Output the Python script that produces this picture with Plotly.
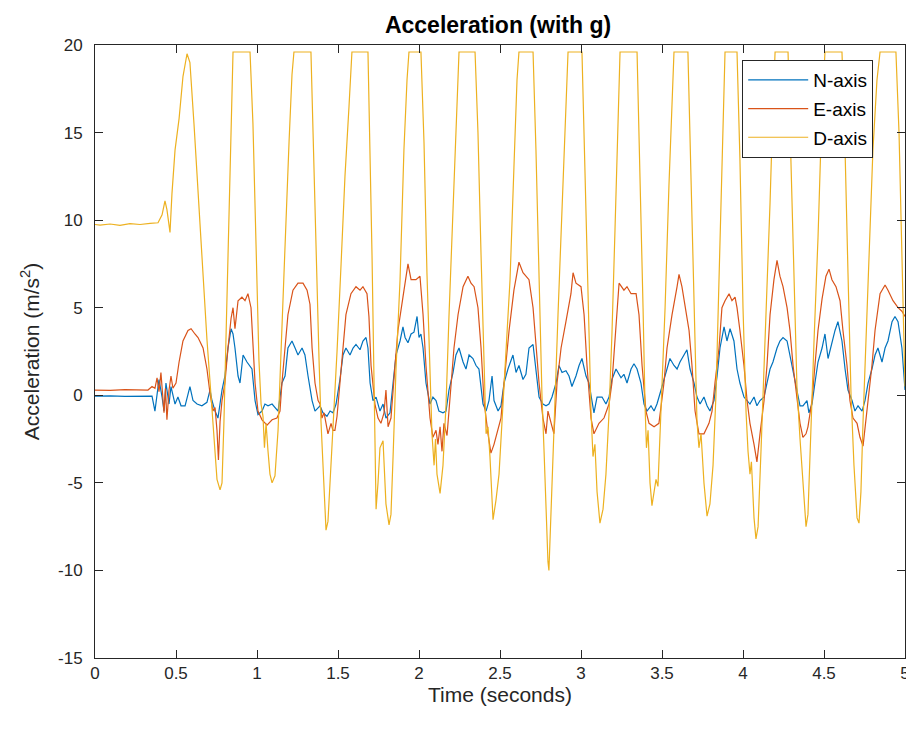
import plotly.graph_objects as go

# ---- data ----
t_N = [0.000, 0.093, 0.185, 0.278, 0.352, 0.370, 0.395, 0.414, 0.426, 0.438, 0.457, 0.469, 0.494, 0.512,
       0.531, 0.556, 0.586, 0.605, 0.630, 0.660, 0.691, 0.710, 0.722, 0.741, 0.759, 0.784, 0.802, 0.821,
       0.840, 0.852, 0.864, 0.883, 0.895, 0.914, 0.938, 0.969, 0.988, 1.006, 1.031, 1.049, 1.068, 1.093,
       1.111, 1.130, 1.154, 1.173, 1.191, 1.216, 1.235, 1.253, 1.278, 1.296, 1.315, 1.340, 1.358, 1.389,
       1.407, 1.432, 1.451, 1.469, 1.488, 1.512, 1.531, 1.549, 1.574, 1.593, 1.611, 1.636, 1.654, 1.673,
       1.685, 1.698, 1.716, 1.735, 1.759, 1.778, 1.796, 1.821, 1.840, 1.858, 1.883, 1.901, 1.914, 1.932,
       1.951, 1.969, 1.988, 2.000, 2.012, 2.025, 2.043, 2.068, 2.086, 2.105, 2.123, 2.148, 2.167, 2.185,
       2.210, 2.228, 2.247, 2.272, 2.290, 2.309, 2.333, 2.352, 2.370, 2.395, 2.414, 2.432, 2.451, 2.463,
       2.488, 2.506, 2.525, 2.549, 2.580, 2.599, 2.617, 2.642, 2.660, 2.679, 2.704, 2.722, 2.741, 2.765,
       2.784, 2.802, 2.821, 2.846, 2.864, 2.883, 2.907, 2.926, 2.944, 2.969, 2.988, 3.006, 3.031, 3.049,
       3.068, 3.080, 3.099, 3.130, 3.154, 3.173, 3.191, 3.216, 3.247, 3.265, 3.284, 3.309, 3.327, 3.346,
       3.370, 3.389, 3.407, 3.432, 3.451, 3.469, 3.494, 3.512, 3.531, 3.549, 3.574, 3.593, 3.611, 3.636,
       3.654, 3.673, 3.698, 3.716, 3.735, 3.759, 3.778, 3.796, 3.821, 3.840, 3.858, 3.883, 3.901, 3.920,
       3.944, 3.963, 3.981, 4.006, 4.025, 4.043, 4.068, 4.086, 4.105, 4.130, 4.148, 4.167, 4.185, 4.210,
       4.228, 4.247, 4.272, 4.290, 4.309, 4.333, 4.352, 4.370, 4.395, 4.407, 4.426, 4.444, 4.463, 4.488,
       4.506, 4.525, 4.549, 4.568, 4.586, 4.611, 4.630, 4.648, 4.673, 4.691, 4.710, 4.735, 4.753, 4.772,
       4.796, 4.815, 4.833, 4.858, 4.877, 4.895, 4.920, 4.938, 4.957, 4.981, 5.000]
n_axis = [-0.05, -0.03, -0.06, -0.04, -0.05, -0.9, 0.9, -0.1, -0.9, 0.7, -0.5, 0.5, -0.5, -0.1,
          -0.6, -0.6, 0.5, -0.3, -0.5, -0.6, -0.4, 0.3, -0.3, -0.9, -1.3, 0.3, 1.1, 2.7,
          3.8, 3.5, 2.7, 1.1, 0.7, 2.3, 1.9, 1.5, -0.3, -1.1, -0.9, -0.5, -0.6, -0.5,
          -0.7, -0.9, 0.7, 1.1, 2.7, 3.1, 2.7, 2.3, 2.7, 2.3, 1.1, -0.3, -0.9, -0.6,
          -1.0, -1.2, -0.9, -1.0, -0.5, 0.9, 2.3, 2.7, 2.3, 2.7, 2.9, 2.6, 3.1, 3.3,
          2.7, 0.7, -0.3, -0.1, -0.9, -0.5, -1.3, -1.0, 0.7, 2.3, 3.1, 3.9, 3.3, 3.0,
          3.5, 3.6, 4.5, 3.3, 3.5, 2.7, 0.7, -0.5, -0.1, -0.3, -0.9, -1.0, -0.9, 0.3,
          1.3, 2.3, 2.7, 1.9, 1.5, 2.3, 2.1, 1.7, 1.5, -0.5, -0.9, -0.3, 1.1, -0.3,
          -0.9, -0.6, 0.7, 1.5, 2.3, 1.3, 1.7, 0.9, 1.2, 2.7, 2.9, 1.5, -0.1, -0.5,
          -0.6, -0.5, -0.1, 0.7, 1.7, 1.3, 1.4, 1.1, 0.5, 1.1, 1.7, 2.1, 1.1, 0.7,
          -0.5, -1.0, -0.1, -0.1, -0.5, -0.1, 0.9, 1.5, 1.0, 1.2, 0.7, 1.5, 1.8, 1.5,
          0.7, -0.5, -0.9, -0.6, -0.9, -0.5, 0.3, 0.9, 1.5, 2.1, 1.7, 1.5, 1.9, 2.3,
          2.6, 1.5, 0.7, -0.1, -0.5, -0.1, -0.6, -0.9, -0.3, 1.1, 2.7, 3.9, 3.1, 3.8,
          3.1, 1.5, 0.7, -0.1, -0.3, -0.5, -0.1, -0.6, -0.3, -0.1, 0.7, 1.5, 1.9, 2.7,
          3.1, 3.3, 3.1, 2.3, 1.5, 0.3, -0.6, -0.6, -0.3, -1.0, -0.5, 0.7, 1.9, 2.7,
          3.5, 2.1, 3.1, 3.7, 4.2, 3.1, 1.5, 0.3, -0.3, -0.9, -0.6, -0.9, -0.3, 0.7,
          1.5, 2.3, 2.7, 1.9, 2.7, 3.1, 4.2, 4.5, 4.2, 2.7, 0.3]

t_E = [0.000, 0.093, 0.185, 0.278, 0.327, 0.352, 0.370, 0.383, 0.395, 0.407, 0.417, 0.426, 0.435, 0.444,
       0.457, 0.469, 0.481, 0.500, 0.519, 0.543, 0.574, 0.593, 0.617, 0.636, 0.667, 0.691, 0.710, 0.728,
       0.741, 0.753, 0.762, 0.772, 0.784, 0.802, 0.821, 0.840, 0.852, 0.864, 0.883, 0.907, 0.926, 0.944,
       0.963, 0.975, 0.988, 1.006, 1.031, 1.062, 1.093, 1.123, 1.142, 1.154, 1.173, 1.191, 1.222, 1.253,
       1.284, 1.309, 1.327, 1.340, 1.358, 1.377, 1.389, 1.401, 1.414, 1.426, 1.438, 1.457, 1.469, 1.481,
       1.494, 1.512, 1.531, 1.549, 1.580, 1.611, 1.636, 1.654, 1.679, 1.691, 1.704, 1.728, 1.747, 1.765,
       1.784, 1.796, 1.809, 1.827, 1.852, 1.870, 1.901, 1.932, 1.951, 1.981, 2.006, 2.025, 2.043, 2.068,
       2.086, 2.105, 2.117, 2.130, 2.142, 2.154, 2.173, 2.198, 2.216, 2.241, 2.272, 2.302, 2.321, 2.340,
       2.364, 2.383, 2.401, 2.426, 2.444, 2.463, 2.488, 2.506, 2.525, 2.556, 2.586, 2.617, 2.642, 2.660,
       2.679, 2.704, 2.722, 2.741, 2.765, 2.784, 2.796, 2.815, 2.833, 2.852, 2.877, 2.907, 2.938, 2.951,
       2.969, 3.000, 3.019, 3.037, 3.062, 3.080, 3.111, 3.142, 3.173, 3.191, 3.216, 3.235, 3.265, 3.284,
       3.309, 3.340, 3.358, 3.377, 3.401, 3.420, 3.451, 3.481, 3.500, 3.512, 3.531, 3.562, 3.593, 3.605,
       3.623, 3.642, 3.667, 3.685, 3.704, 3.728, 3.759, 3.790, 3.809, 3.827, 3.852, 3.870, 3.889, 3.914,
       3.932, 3.951, 3.963, 3.981, 4.006, 4.025, 4.043, 4.068, 4.086, 4.105, 4.130, 4.148, 4.167, 4.191,
       4.210, 4.228, 4.247, 4.272, 4.290, 4.309, 4.333, 4.352, 4.370, 4.389, 4.401, 4.426, 4.444, 4.463,
       4.488, 4.512, 4.531, 4.549, 4.574, 4.599, 4.617, 4.642, 4.660, 4.679, 4.704, 4.722, 4.741, 4.753,
       4.772, 4.796, 4.815, 4.846, 4.877, 4.895, 4.926, 4.957, 4.981, 5.000]
e_axis = [0.30, 0.28, 0.32, 0.30, 0.30, 0.50, 0.40, 1.0, 0.2, 1.3, -0.3, -1.0, 0.4, -1.4,
          0.3, 1.1, 0.4, 0.7, 1.9, 3.1, 3.7, 3.8, 3.5, 3.3, 2.7, 1.5, 0.1, -0.9,
          -0.7, -2.0, -3.7, -1.5, -0.3, 0.7, 2.7, 4.4, 5.0, 3.8, 5.4, 5.6, 5.4, 5.8,
          5.0, 2.7, 0.7, -0.9, -1.4, -1.7, -1.4, -1.3, -0.9, 0.7, 2.7, 4.6, 6.0, 6.4,
          6.4, 6.0, 5.2, 2.7, 0.7, -0.3, -0.5, -1.3, -1.0, -1.6, -2.2, -1.6, -2.0, -2.0,
          -1.2, 0.7, 2.7, 4.6, 5.8, 6.2, 6.0, 6.2, 5.8, 4.5, 1.7, -0.5, -1.3, -1.6,
          -1.0, 0.3, -1.8, -1.3, 1.7, 3.7, 5.6, 7.5, 6.6, 6.6, 6.8, 4.6, 1.7, -1.3,
          -2.4, -2.0, -2.8, -1.8, -3.2, -1.6, -2.3, 0.7, 2.7, 4.6, 6.2, 6.8, 6.4, 6.2,
          5.0, 2.7, -0.3, -2.2, -3.3, -2.8, -2.0, -1.3, 0.7, 3.7, 6.0, 7.6, 7.0, 6.8,
          6.6, 5.0, 2.7, 0.7, -1.3, -2.2, -0.9, -1.6, -2.2, 0.7, 2.7, 4.2, 5.8, 7.0,
          6.4, 6.2, 4.6, 1.7, -1.3, -2.2, -1.6, -1.3, -0.5, 0.7, 3.7, 6.4, 6.0, 6.2,
          5.8, 5.8, 4.6, 1.7, -0.9, -1.6, -1.8, -1.6, -0.2, 0.7, 2.7, 4.6, 6.2, 6.9,
          6.2, 5.0, 3.7, 1.7, -0.9, -2.2, -2.2, -1.6, -0.9, 0.7, 2.7, 5.0, 5.4, 5.8,
          5.4, 5.6, 5.0, 3.7, 1.7, -0.3, -1.6, -2.8, -3.8, -2.2, -0.3, 1.7, 4.6, 6.6,
          7.7, 6.8, 6.2, 5.0, 3.7, 1.7, -0.3, -1.6, -2.4, -2.2, -1.8, -0.3, 1.7, 3.7,
          5.5, 6.8, 7.2, 6.6, 6.2, 5.4, 3.7, 1.7, -0.3, -1.3, -1.6, -2.4, -2.9, -1.8,
          -0.3, 1.7, 3.7, 5.8, 6.3, 6.0, 5.4, 5.0, 4.8, 4.5]

t_D = [0.000, 0.031, 0.093, 0.154, 0.216, 0.278, 0.340, 0.389, 0.414, 0.432, 0.444, 0.463, 0.475, 0.494,
       0.519, 0.543, 0.568, 0.586, 0.611, 0.636, 0.667, 0.691, 0.716, 0.735, 0.753, 0.772, 0.784, 0.796,
       0.815, 0.833, 0.852, 0.957, 0.975, 0.994, 1.012, 1.025, 1.037, 1.046, 1.056, 1.068, 1.080, 1.093,
       1.111, 1.130, 1.148, 1.173, 1.198, 1.216, 1.228, 1.333, 1.346, 1.364, 1.383, 1.395, 1.407, 1.426,
       1.438, 1.457, 1.475, 1.494, 1.519, 1.543, 1.568, 1.586, 1.685, 1.698, 1.710, 1.722, 1.735, 1.747,
       1.759, 1.778, 1.796, 1.815, 1.827, 1.840, 1.858, 1.883, 1.907, 1.926, 1.938, 2.012, 2.031, 2.049,
       2.068, 2.080, 2.093, 2.102, 2.111, 2.130, 2.148, 2.167, 2.185, 2.210, 2.228, 2.247, 2.346, 2.364,
       2.383, 2.401, 2.414, 2.426, 2.438, 2.457, 2.475, 2.494, 2.512, 2.537, 2.562, 2.586, 2.605, 2.617,
       2.704, 2.722, 2.741, 2.759, 2.772, 2.784, 2.796, 2.802, 2.815, 2.833, 2.858, 2.883, 2.907, 2.920,
       3.006, 3.025, 3.043, 3.062, 3.074, 3.086, 3.099, 3.117, 3.136, 3.154, 3.173, 3.191, 3.210, 3.228,
       3.241, 3.346, 3.364, 3.383, 3.395, 3.404, 3.414, 3.426, 3.438, 3.451, 3.463, 3.475, 3.494, 3.519,
       3.543, 3.562, 3.574, 3.660, 3.679, 3.698, 3.716, 3.728, 3.741, 3.759, 3.778, 3.796, 3.815, 3.833,
       3.852, 3.870, 3.883, 3.889, 3.963, 3.981, 4.000, 4.019, 4.031, 4.043, 4.052, 4.068, 4.080, 4.093,
       4.111, 4.130, 4.148, 4.167, 4.185, 4.198, 4.278, 4.296, 4.315, 4.333, 4.352, 4.370, 4.389, 4.401,
       4.420, 4.438, 4.463, 4.481, 4.500, 4.506, 4.611, 4.630, 4.648, 4.667, 4.685, 4.704, 4.716, 4.728,
       4.741, 4.759, 4.778, 4.802, 4.827, 4.846, 4.944, 4.963, 4.981, 5.000]
d_axis = [9.75, 9.72, 9.78, 9.70, 9.80, 9.75, 9.82, 9.85, 10.3, 11.1, 10.6, 9.3, 11.5, 14.0,
          15.8, 18.2, 19.5, 19.0, 15.5, 11.5, 6.5, 3.2, 0.0, -2.8, -4.8, -5.4, -5.0, -1.5,
          6.0, 13.5, 19.6, 19.6, 15.5, 8.6, 2.0, -0.5, -1.2, -3.0, -1.6, -3.2, -4.5, -5.0,
          -4.6, -2.0, 2.0, 8.5, 14.5, 18.3, 19.6, 19.6, 15.0, 8.0, 2.0, -1.5, -4.0, -7.7,
          -7.2, -4.0, -1.0, 2.5, 7.5, 12.5, 16.5, 19.6, 19.6, 14.5, 8.0, 1.0, -6.5, -5.0,
          -3.0, -2.6, -6.2, -7.4, -6.8, -3.5, 1.5, 6.6, 14.0, 18.0, 19.6, 19.6, 14.4, 7.0,
          0.5, -2.2, -4.0, -2.5, -4.5, -5.6, -4.0, -0.5, 4.5, 10.5, 15.5, 19.6, 19.6, 15.0,
          8.0, 1.5, -2.2, -1.8, -3.5, -7.1, -6.0, -4.5, -1.5, 2.5, 6.6, 13.0, 18.0, 19.6,
          19.6, 14.0, 6.0, 0.0, -3.2, -6.5, -9.5, -10.0, -7.0, -2.0, 4.6, 10.5, 16.0, 19.6,
          19.6, 12.5, 5.5, -1.0, -3.5, -2.8, -5.5, -7.3, -6.5, -4.5, -1.0, 3.5, 9.5, 15.5,
          19.6, 19.6, 13.0, 5.0, -0.5, -3.0, -2.0, -5.0, -6.3, -5.5, -4.8, -5.2, -1.0, 5.0,
          12.0, 17.0, 19.6, 19.6, 12.5, 4.5, -1.5, -3.0, -2.2, -5.0, -6.9, -6.2, -4.0, 0.0,
          7.0, 13.5, 18.0, 19.6, 19.6, 13.5, 5.0, -1.0, -3.2, -4.5, -3.8, -7.0, -8.2, -7.5,
          -3.2, 1.5, 5.5, 11.0, 16.5, 19.6, 19.6, 13.0, 6.0, 0.5, -2.5, -5.0, -7.5, -6.8,
          -1.5, 3.0, 9.0, 14.4, 18.5, 19.6, 19.6, 14.0, 7.0, 0.0, -4.0, -7.0, -7.3, -5.5,
          -1.5, 3.0, 8.6, 14.0, 18.0, 19.6, 19.6, 15.0, 8.0, 0.5]

x_ticks = [0, 0.5, 1, 1.5, 2, 2.5, 3, 3.5, 4, 4.5, 5]
x_tick_labels = ["0", "0.5", "1", "1.5", "2", "2.5", "3", "3.5", "4", "4.5", "5"]
y_ticks = [-15, -10, -5, 0, 5, 10, 15, 20]
y_tick_labels = ["-15", "-10", "-5", "0", "5", "10", "15", "20"]

series_names = ["N-axis", "E-axis", "D-axis"]
series_colors = ["#0072BD", "#D95319", "#EDB120"]

FONT = "Liberation Sans, Arial, sans-serif"
AX = "#262626"

# page has an 8px body margin; figure sized so that plot lands where the reference has it
W, H = 906, 715
L, R, T, B = 87, 9, 37, 65

fig = go.Figure()
for name, tt, vv, col in zip(series_names, [t_N, t_E, t_D], [n_axis, e_axis, d_axis], series_colors):
    fig.add_trace(go.Scatter(x=tt, y=vv, mode="lines", name=name, legendgroup=name,
                             line=dict(color=col, width=1.2)))

axis_common = dict(showline=True, linecolor=AX, linewidth=1, mirror="ticks",
                   ticks="inside", ticklen=8, tickcolor=AX, tickwidth=1,
                   showgrid=False, zeroline=False,
                   tickfont=dict(family=FONT, size=17, color=AX))

fig.update_xaxes(range=[0, 5], tickvals=x_ticks, ticktext=x_tick_labels, ticklabeloverflow="allow",
                 title=dict(text="Time (seconds)", font=dict(family=FONT, size=21, color=AX), standoff=2),
                 **axis_common)
fig.update_yaxes(range=[-15, 20], tickvals=y_ticks, ticktext=y_tick_labels, ticklabelstandoff=8,
                 title=dict(text="Acceleration (m/s<sup>2</sup>)", font=dict(family=FONT, size=21, color=AX), standoff=12),
                 **axis_common)

fig.update_layout(
    width=W, height=H,
    margin=dict(l=L, r=R, t=T, b=B, autoexpand=False),
    paper_bgcolor="white", plot_bgcolor="white",
    title=dict(text="<b>Acceleration (with g)</b>", x=(498 - 8) / W, xanchor="center",
               y=1 - 17 / H, yanchor="middle", yref="container",
               font=dict(family=FONT, size=23, color="black")),
    legend=dict(x=0.799, y=0.9755, xanchor="left", yanchor="top",
                bgcolor="white", bordercolor=AX, borderwidth=1,
                font=dict(family=FONT, size=19, color="black"),
                itemwidth=60, tracegroupgap=1),
    showlegend=True,
)

fig.write_html("out.html")
